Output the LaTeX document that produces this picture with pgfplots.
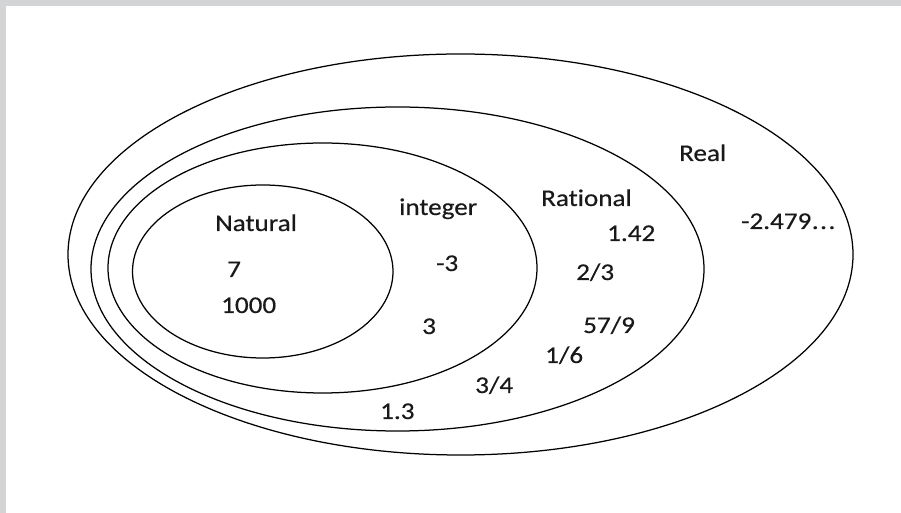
\documentclass[border=0pt]{standalone}
\usepackage{fontspec}
\setmainfont{Carlito}[Ligatures=NoCommon, FakeStretch=1.13, FakeBold=0.4]
\usepackage{pgfplots}
\pgfplotsset{compat=1.18}
\definecolor{framegray}{RGB}{211,212,214}
\definecolor{txt}{RGB}{25,25,25}
\begin{document}
\begin{tikzpicture}
\begin{axis}[
  at={(0,0)}, anchor=south west,
  scale only axis, width=901bp, height=513bp,
  xmin=0, xmax=901, ymin=0, ymax=513,
  hide axis, clip=false,
]
% frame
\fill[framegray] (axis cs:0,507) rectangle (axis cs:901,513);
\fill[framegray] (axis cs:0,0) rectangle (axis cs:6,513);
% sets (center x, center y, x radius, y radius) in axis units
\draw[black, line width=1.25bp] (axis cs:460.5,258.5) ellipse [x radius=392.5, y radius=200.5];
\draw[black, line width=1.25bp] (axis cs:397.5,244) ellipse [x radius=306.5, y radius=162];
\draw[black, line width=1.25bp] (axis cs:322.5,245) ellipse [x radius=214.5, y radius=125];
\draw[black, line width=1.25bp] (axis cs:262.75,241.5) ellipse [x radius=130.25, y radius=86.5];
% labels
\begin{scope}[every node/.style={anchor=base west, inner sep=0pt, text=txt, font=\fontsize{24bp}{28bp}\selectfont}]
\node at (axis cs:679,352) {Real};
\node at (axis cs:741,284) {-2.479\kern0.5bp.\kern1.5bp.\kern1.5bp.};
\node at (axis cs:541,307) {Rational};
\node at (axis cs:607,272) {1.42};
\node at (axis cs:576,233) {2/3};
\node at (axis cs:583,180) {57/9};
\node at (axis cs:545,150) {1/6};
\node at (axis cs:475,120) {3/4};
\node at (axis cs:380,94) {1.3};
\node at (axis cs:399,298) {integer};
\node at (axis cs:436,242) {-3};
\node at (axis cs:422,179) {3};
\node at (axis cs:215,282) {Natural};
\node at (axis cs:227,236) {7};
\node at (axis cs:221,200) {1000};
\end{scope}
\end{axis}
\path[use as bounding box] (0,0) rectangle (901bp,513bp);
\end{tikzpicture}
\end{document}
